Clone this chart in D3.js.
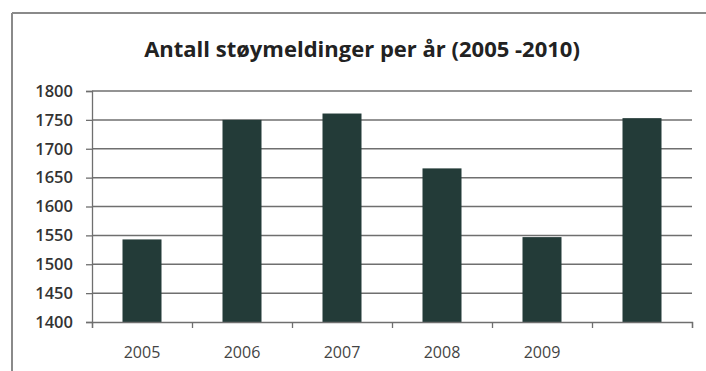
<!DOCTYPE html>
<html>
<head>
<meta charset="utf-8">
<script src="https://cdn.jsdelivr.net/npm/d3@7"></script>
<style>
  body { margin: 0; background: #fff; }
  svg { display: block; }
  .tick text { font-family: "Open Sans", sans-serif; fill: #333; }
</style>
</head>
<body>
<svg id="chart"></svg>
<script>
const years = ["2005", "2006", "2007", "2008", "2009", "2010"];
const tickLabels = ["2005", "2006", "2007", "2008", "2009", ""];
const values = [1543, 1750, 1761, 1666, 1547, 1753];
const yTicks = [1400, 1450, 1500, 1550, 1600, 1650, 1700, 1750, 1800];
const title = "Antall støymeldinger per år (2005 -2010)";

const width = 706, height = 371;
const margin = { top: 91, right: 14, bottom: 49, left: 92 };

const svg = d3.select("#chart").attr("width", width).attr("height", height);

// chart frame (top + left edges only are visible in the scan)
svg.append("line").attr("x1", 12).attr("x2", width).attr("y1", 13).attr("y2", 13)
  .attr("stroke", "#8a8a8a").attr("stroke-width", 2);
svg.append("line").attr("x1", 12).attr("x2", 12).attr("y1", 13).attr("y2", height)
  .attr("stroke", "#8a8a8a").attr("stroke-width", 2);

svg.append("text")
  .attr("x", 362).attr("y", 57)
  .attr("text-anchor", "middle")
  .style("font-family", "'Open Sans', sans-serif")
  .style("font-weight", "bold")
  .style("font-size", "22px")
  .style("fill", "#222")
  .text(title);

const x = d3.scaleBand()
  .domain(years)
  .range([margin.left, width - margin.right])
  .paddingInner(0.61)
  .paddingOuter(0.305);

const y = d3.scaleLinear()
  .domain([1400, 1800])
  .range([height - margin.bottom, margin.top]);

// gridlines
svg.append("g")
  .selectAll("line")
  .data(yTicks.slice(1))
  .join("line")
  .attr("x1", margin.left).attr("x2", width - margin.right)
  .attr("y1", d => y(d)).attr("y2", d => y(d))
  .attr("stroke", "#6f6f6f").attr("stroke-width", 1.5);

svg.append("g")
  .selectAll("rect")
  .data(values)
  .join("rect")
  .attr("x", (d, i) => x(years[i]))
  .attr("y", d => y(d))
  .attr("width", x.bandwidth())
  .attr("height", d => y(1400) - y(d))
  .attr("fill", "#233b38");

const yAxis = d3.axisLeft(y).tickValues(yTicks).tickFormat(d3.format("d")).tickSize(6).tickPadding(13);
const gy = svg.append("g")
  .attr("transform", `translate(${margin.left},0)`)
  .call(yAxis);
gy.selectAll("text").style("font-size", "16.5px").style("font-weight", "600");
gy.selectAll("line, path").attr("stroke", "#6f6f6f").attr("stroke-width", 1.3);

// x axis with ticks on band boundaries
const xBoundary = d3.scaleLinear().domain([0, years.length]).range([margin.left, width - margin.right]);
const gx = svg.append("g")
  .attr("transform", `translate(0,${y(1400)})`)
  .call(d3.axisBottom(xBoundary).ticks(years.length).tickSize(6).tickFormat(""));
gx.selectAll("line, path").attr("stroke", "#6f6f6f").attr("stroke-width", 1.3);

svg.append("g")
  .selectAll("text")
  .data(tickLabels)
  .join("text")
  .attr("x", (d, i) => x(years[i]) + x.bandwidth() / 2)
  .attr("y", height - 13)
  .attr("text-anchor", "middle")
  .style("font-family", "'Open Sans', sans-serif")
  .style("font-size", "16px")
  .style("fill", "#444")
  .text(d => d);
</script>
</body>
</html>
